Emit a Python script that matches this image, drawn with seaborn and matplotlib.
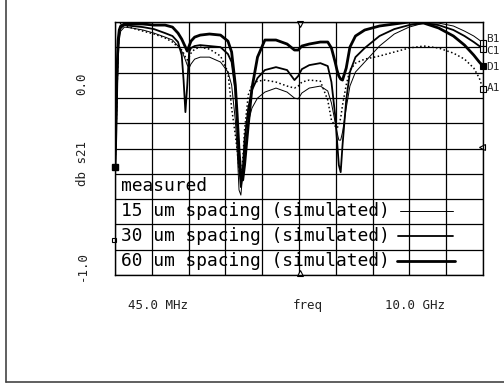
import numpy as np
import pandas as pd
import seaborn as sns
import matplotlib.pyplot as plt
from matplotlib.lines import Line2D

sns.set_style("white")
plt.rcParams['font.family'] = ['DejaVu Sans Mono', 'DejaVu Sans']

# sweep points (GHz), 45 MHz .. 10 GHz
freq = [0.045, 0.07, 0.1, 0.13, 0.16, 0.2, 0.3, 0.5, 0.8, 1.1, 1.4, 1.6,
        1.75, 1.85, 1.9, 1.95, 2.0, 2.05, 2.1, 2.2, 2.35, 2.6, 2.9, 3.1,
        3.2, 3.3, 3.35, 3.4, 3.45, 3.5, 3.55, 3.65, 3.75, 3.9, 4.1, 4.4,
        4.7, 4.9, 5.0, 5.1, 5.3, 5.6, 5.8, 5.9, 6.0, 6.05, 6.1, 6.15,
        6.2, 6.3, 6.4, 6.55, 6.8, 7.2, 7.6, 8.0, 8.4, 8.8, 9.2, 9.5,
        9.75, 9.9, 10.0]

# db s21 traces
measured = [-0.456, -0.308, -0.033, 0.187, 0.297, 0.335,
            0.324, 0.308, 0.291, 0.275, 0.253, 0.231,
            0.203, 0.187, 0.170, 0.148, 0.132, 0.148,
            0.170, 0.192, 0.203, 0.192, 0.154, 0.066,
            -0.132, -0.280, -0.363, -0.473, -0.527, -0.418,
            -0.253, -0.060, -0.005, 0.016, 0.022, 0.011,
            -0.011, -0.022, -0.011, 0.011, 0.022, 0.016,
            -0.088, -0.198, -0.231, -0.242, -0.225, -0.187,
            -0.115, -0.005, 0.077, 0.115, 0.137, 0.154,
            0.176, 0.198, 0.209, 0.198, 0.170, 0.137,
            0.088, 0.033, -0.027]
sp15 = [-0.456, -0.335, -0.088, 0.132, 0.242, 0.291,
        0.313, 0.308, 0.297, 0.280, 0.258, 0.242,
        0.209, 0.181, 0.159, 0.132, 0.104, 0.088,
        0.110, 0.137, 0.148, 0.148, 0.121, 0.066,
        -0.005, -0.198, -0.363, -0.582, -0.610, -0.500,
        -0.363, -0.209, -0.132, -0.077, -0.044, -0.022,
        -0.044, -0.077, -0.082, -0.049, -0.022, -0.011,
        -0.038, -0.104, -0.209, -0.264, -0.308, -0.308,
        -0.264, -0.132, -0.011, 0.066, 0.121, 0.209,
        0.275, 0.313, 0.335, 0.335, 0.319, 0.291,
        0.264, 0.242, 0.225]
sp30 = [-0.456, -0.280, 0.022, 0.214, 0.286, 0.308,
        0.324, 0.319, 0.313, 0.302, 0.280, 0.264,
        0.231, 0.159, 0.022, -0.154, -0.005, 0.176,
        0.198, 0.209, 0.214, 0.209, 0.203, 0.165,
        0.121, -0.033, -0.225, -0.445, -0.566, -0.473,
        -0.308, -0.132, -0.033, 0.033, 0.077, 0.093,
        0.077, 0.022, 0.044, 0.082, 0.104, 0.115,
        0.099, 0.011, -0.170, -0.308, -0.445, -0.484,
        -0.335, -0.088, 0.066, 0.148, 0.198, 0.264,
        0.302, 0.324, 0.335, 0.324, 0.297, 0.264,
        0.231, 0.209, 0.192]
sp60 = [-0.456, -0.253, 0.077, 0.242, 0.297, 0.319,
        0.330, 0.330, 0.330, 0.324, 0.324, 0.313,
        0.280, 0.247, 0.225, 0.203, 0.181, 0.209,
        0.236, 0.258, 0.269, 0.275, 0.269, 0.236,
        0.176, -0.005, -0.170, -0.363, -0.500, -0.527,
        -0.445, -0.225, -0.022, 0.148, 0.242, 0.242,
        0.220, 0.187, 0.187, 0.209, 0.220, 0.231,
        0.231, 0.198, 0.121, 0.077, 0.044, 0.027,
        0.022, 0.088, 0.203, 0.264, 0.297, 0.319,
        0.330, 0.341, 0.335, 0.308, 0.264, 0.214,
        0.159, 0.121, 0.099]

legend_rows = ["measured",
               "15 um spacing (simulated)",
               "30 um spacing (simulated)",
               "60 um spacing (simulated)"]
marker_names = ["A1", "B1", "C1", "D1"]

REF_LEVEL = -0.857      # reference marker on the left edge
CURSOR_LEVEL = -0.346   # marker on the right edge
CURSOR_FREQ = 5.05      # triangle markers top/bottom
Y_MIN, Y_MAX = -1.049, 0.341
F_START, F_STOP = 0.045, 10.0

df = pd.DataFrame({"freq": freq, "measured": measured,
                   "sp15": sp15, "sp30": sp30, "sp60": sp60})

fig = plt.figure(figsize=(5.04, 3.85), dpi=100)
ax = fig.add_axes([115 / 504, 1 - 275 / 385, 368 / 504, 253 / 385])

# traces
sns.lineplot(data=df, x="freq", y="measured", ax=ax, color="black",
             linewidth=1.1, linestyle=(0, (1, 1.6)), estimator=None, sort=False)
sns.lineplot(data=df, x="freq", y="sp15", ax=ax, color="black",
             linewidth=0.7, estimator=None, sort=False)
sns.lineplot(data=df, x="freq", y="sp30", ax=ax, color="black",
             linewidth=1.3, estimator=None, sort=False)
sns.lineplot(data=df, x="freq", y="sp60", ax=ax, color="black",
             linewidth=2.0, estimator=None, sort=False)

ax.set_xlim(F_START, F_STOP)
ax.set_ylim(Y_MIN, Y_MAX)

# 10 x 10 graticule
ax.set_xticks(np.linspace(F_START, F_STOP, 11), minor=True)
ax.set_yticks(np.linspace(Y_MIN, Y_MAX, 11), minor=True)
ax.grid(which="minor", color="black", linewidth=0.9)
ax.tick_params(which="minor", length=0)

ax.set_xticks([1.208, 5.266, 8.16])
ax.set_xticklabels(["45.0 MHz", "freq", "10.0 GHz"], fontsize=9, color="#222222")
ax.set_yticks([0.0, -1.0])
ax.set_yticklabels(["0.0", "-1.0"], fontsize=9, color="#222222")
ax.tick_params(axis="x", which="major", length=0, pad=17)
ax.tick_params(axis="y", which="major", length=0, pad=19, labelrotation=90)
for lab in ax.get_yticklabels():
    lab.set_va("center")

ax.set_xlabel("")
ax.set_ylabel("db s21", fontsize=9, color="#222222", va="center")
ax.yaxis.set_label_coords(-0.087, 0.439)

for s in ax.spines.values():
    s.set_color("black")
    s.set_linewidth(1.0)

# legend rows written into the graticule
row_y = [0.352, 0.253, 0.154, 0.0553]
for txt, yy in zip(legend_rows, row_y):
    ax.text(0.0163, yy, txt, transform=ax.transAxes, fontsize=12.9,
            va="center", ha="left", color="black")
key_x = [(0.774, 0.918), (0.769, 0.918), (0.766, 0.924)]
key_w = [0.7, 1.3, 2.0]
for (x0, x1), yy, lw in zip(key_x, row_y[1:], key_w):
    ax.plot([x0, x1], [yy, yy], transform=ax.transAxes, color="black",
            linewidth=lw, clip_on=False)

# trace end markers A1..D1
ends = [measured[-1], sp15[-1], sp30[-1], sp60[-1]]
fills = ["white", "white", "white", "black"]
label_dy = [1, 3, -1.5, -1]
for name, val, fc, dy in zip(marker_names, ends, fills, label_dy):
    ax.plot(freq[-1], val, marker="s", markersize=4, markerfacecolor=fc,
            markeredgecolor="black", markeredgewidth=0.8, clip_on=False)
    ax.annotate(name, xy=(freq[-1], val), xytext=(2.5, dy),
                textcoords="offset points", fontsize=8, va="center",
                ha="left", annotation_clip=False)

# start marker and other analyzer markers
ax.plot(freq[0], sp60[0], marker="s", markersize=4.5, color="black", clip_on=False)
ax.plot(F_START - 0.03, REF_LEVEL, marker="s", markersize=3.5,
        markerfacecolor="white", markeredgecolor="black", markeredgewidth=0.8,
        clip_on=False)
ax.plot(F_STOP - 0.03, CURSOR_LEVEL, marker="<", markersize=4,
        markerfacecolor="white", markeredgecolor="black", markeredgewidth=0.8,
        clip_on=False)
ax.plot(CURSOR_FREQ, Y_MAX - 0.01, marker="v", markersize=4,
        markerfacecolor="white", markeredgecolor="black", markeredgewidth=0.8,
        clip_on=False)
ax.plot(CURSOR_FREQ, Y_MIN + 0.01, marker="^", markersize=4,
        markerfacecolor="white", markeredgecolor="black", markeredgewidth=0.8,
        clip_on=False)

# page frame (left and bottom edge of the scan)
fig.add_artist(Line2D([6 / 504, 6 / 504], [0.0078, 1.0], color="#444444", linewidth=1.2))
fig.add_artist(Line2D([6 / 504, 1.0], [0.0078, 0.0078], color="#444444", linewidth=1.2))

fig.savefig("out.png", dpi=100)
